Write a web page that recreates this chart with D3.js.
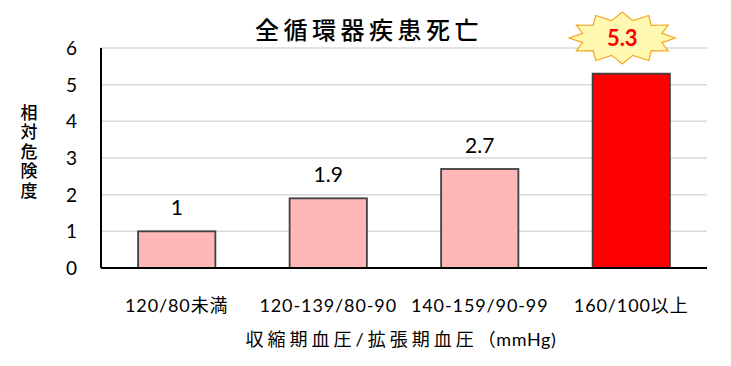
<!DOCTYPE html>
<html>
<head>
<meta charset="utf-8">
<script src="https://cdn.jsdelivr.net/npm/d3@7"></script>
<style>
  body { margin: 0; background: #fff; }
  text { font-family: "Lato", "Noto Sans CJK JP", sans-serif; }
</style>
</head>
<body>
<div id="chart"></div>
<script>
// chart data
const categories = ['120/80未満', '120-139/80-90', '140-159/90-99', '160/100以上'];
const values = [1, 1.9, 2.7, 5.3];
const yTicks = [0, 1, 2, 3, 4, 5, 6];
const title = '全循環器疾患死亡';
const yTitle = '相対危険度';
const xTitleJa = '収縮期血圧/拡張期血圧';
const xTitleUnit = '（mmHg)';

const width = 731, height = 366;
const margin = {top: 48, right: 24, bottom: 98, left: 101};

const svg = d3.select('#chart').append('svg')
  .attr('width', width)
  .attr('height', height);

const x = d3.scaleBand()
  .domain(categories)
  .range([margin.left, width - margin.right])
  .paddingInner(0.49)
  .paddingOuter(0.245);

const y = d3.scaleLinear()
  .domain([0, 6])
  .range([height - margin.bottom, margin.top]);

// gridlines
svg.append('g')
  .selectAll('line')
  .data(yTicks.filter(d => d > 0))
  .enter().append('line')
  .attr('x1', margin.left)
  .attr('x2', width - margin.right)
  .attr('y1', d => y(d))
  .attr('y2', d => y(d))
  .attr('stroke', '#d9d9d9')
  .attr('stroke-width', 1.5);

// y tick labels
svg.append('g')
  .selectAll('text')
  .data(yTicks)
  .enter().append('text')
  .attr('x', 77)
  .attr('y', d => y(d))
  .attr('dy', '0.36em')
  .attr('text-anchor', 'end')
  .attr('font-size', 19)
  .attr('fill', '#000')
  .text(d => d);

// bars
svg.append('g')
  .selectAll('rect')
  .data(values)
  .enter().append('rect')
  .attr('x', (d, i) => x(categories[i]))
  .attr('width', x.bandwidth())
  .attr('y', d => y(d))
  .attr('height', d => y(0) - y(d))
  .attr('fill', (d, i) => i === values.length - 1 ? '#ff0000' : '#ffb7b7')
  .attr('stroke', '#404040')
  .attr('stroke-width', 1.8);

// value labels (not for the last bar, which gets the star)
svg.append('g')
  .selectAll('text')
  .data(values.slice(0, 3))
  .enter().append('text')
  .attr('x', (d, i) => x(categories[i]) + x.bandwidth() / 2)
  .attr('y', d => y(d) - 16)
  .attr('text-anchor', 'middle')
  .attr('font-size', 21)
  .attr('fill', '#000')
  .text(d => d);

// axis lines
svg.append('line')
  .attr('x1', margin.left).attr('x2', margin.left)
  .attr('y1', y(6)).attr('y2', y(0))
  .attr('stroke', '#000').attr('stroke-width', 2);
svg.append('line')
  .attr('x1', margin.left).attr('x2', width - margin.right)
  .attr('y1', y(0)).attr('y2', y(0))
  .attr('stroke', '#000').attr('stroke-width', 2);

// x tick labels
svg.append('g')
  .selectAll('text')
  .data(categories)
  .enter().append('text')
  .attr('x', d => x(d) + x.bandwidth() / 2)
  .attr('y', 312)
  .attr('text-anchor', 'middle')
  .attr('font-size', 18)
  .attr('letter-spacing', 0.9)
  .attr('fill', '#000')
  .text(d => d);

// x axis title: wide-spaced Japanese part, plain unit part
const xt = svg.append('text')
  .attr('x', 401)
  .attr('y', 346)
  .attr('text-anchor', 'middle')
  .attr('font-size', 18);
xt.append('tspan').attr('letter-spacing', 4).text(xTitleJa);
xt.append('tspan').attr('letter-spacing', 0.6).text(xTitleUnit);

// y axis title, vertical
svg.append('text')
  .attr('x', 28)
  .attr('y', 104)
  .attr('writing-mode', 'vertical-rl')
  .attr('font-size', 17)
  .attr('font-weight', 500)
  .attr('letter-spacing', 2.5)
  .text(yTitle);

// title
svg.append('text')
  .attr('x', 369)
  .attr('y', 39)
  .attr('text-anchor', 'middle')
  .attr('font-size', 24)
  .attr('font-weight', 500)
  .attr('letter-spacing', 4.5)
  .text(title);

// star burst over the last bar
const last = values.length - 1;
const cx = x(categories[last]) + x.bandwidth() / 2 - 9;
const cy = 38;
const nPts = 12;
const starPts = d3.range(nPts * 2).map(i => {
  const a = -Math.PI / 2 + i * Math.PI / nPts;
  const rx = i % 2 === 0 ? 53 : 41;
  const ry = i % 2 === 0 ? 26 : 18;
  return [cx + rx * Math.cos(a), cy + ry * Math.sin(a)];
});
svg.append('path')
  .attr('d', d3.line()(starPts) + 'Z')
  .attr('fill', '#fff8b0')
  .attr('stroke', '#f5a623')
  .attr('stroke-width', 1.2);
svg.append('text')
  .attr('x', cx)
  .attr('y', cy)
  .attr('dy', '0.36em')
  .attr('text-anchor', 'middle')
  .attr('font-size', 22)
  .attr('font-weight', 'bold')
  .attr('fill', '#ff0000')
  .text(values[last]);
</script>
</body>
</html>
